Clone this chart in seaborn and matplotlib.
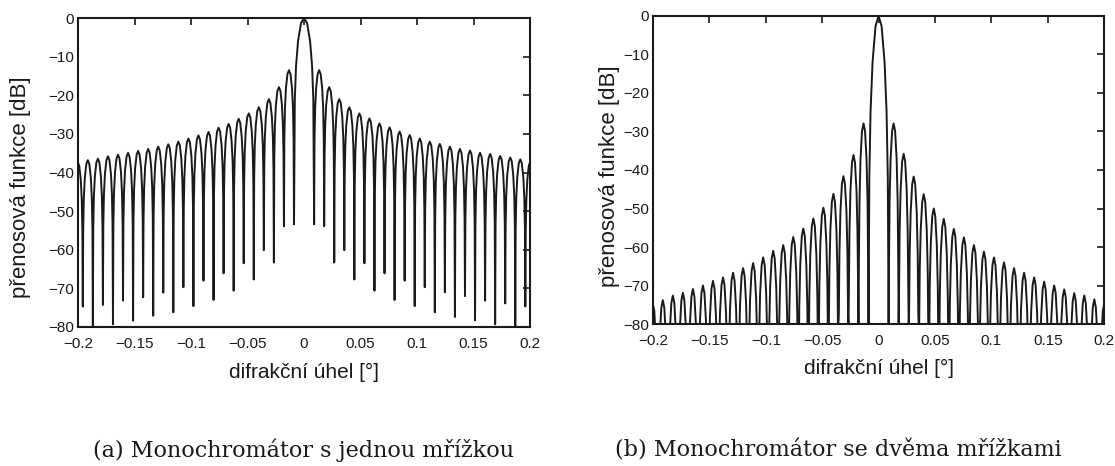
import numpy as np
import pandas as pd
import matplotlib.pyplot as plt
import seaborn as sns

# spacing of the nulls on the angle axis [deg]
null_step = 0.0089

# (a) one grating: side-lobe peaks [dB], lobe 1..22 counted from the centre
peaks_a_right = [-13.5, -17.9, -21.0, -23.1, -24.7, -26.0, -27.3, -28.3, -29.4, -30.3, -31.2,
                 -32.0, -32.6, -33.3, -33.9, -34.3, -34.9, -35.2, -35.7, -36.1, -36.6, -37.2]
peaks_a_left = [-13.5, -17.9, -21.0, -23.1, -24.7, -26.1, -27.4, -28.4, -29.5, -30.4, -31.2,
                -32.0, -32.7, -33.3, -33.9, -34.4, -34.9, -35.4, -35.8, -36.4, -36.8, -37.3]
# (a) null depths [dB], null 1..23 counted from the centre
nulls_a_right = [-53.4, -53.9, -63.3, -60.1, -67.7, -63.5, -70.6, -66.1, -73.0, -68.0, -74.6, -69.7,
                 -76.2, -71.0, -77.4, -72.0, -78.3, -73.2, -79.3, -73.9, -80.0, -74.7, -80.0]
nulls_a_left = [-53.4, -53.9, -63.3, -60.1, -67.7, -63.5, -70.6, -66.1, -73.0, -68.0, -74.6, -69.7,
                -76.2, -71.1, -77.1, -72.3, -78.4, -73.2, -79.3, -74.3, -80.0, -74.7, -80.0]

# (b) two gratings: side-lobe peaks [dB]
peaks_b_right = [-27.9, -35.8, -41.7, -46.3, -50.0, -52.7, -55.3, -57.5, -59.5, -61.2, -62.7,
                 -64.0, -65.5, -66.7, -67.9, -69.0, -70.0, -71.0, -72.0, -72.6, -73.6, -74.6]
peaks_b_left = [-27.9, -36.1, -41.6, -46.2, -49.8, -52.6, -55.2, -57.4, -59.5, -61.0, -62.7,
                -64.2, -65.5, -66.7, -67.9, -68.8, -70.0, -70.9, -71.9, -72.6, -73.8, -74.6]
# (b) the nulls all run down to the floor of the axis
nulls_b_right = [-80, -80, -80, -80, -80, -80, -80, -80, -80, -80, -80, -80,
                 -80, -80, -80, -80, -80, -80, -80, -80, -80, -80, -80]
nulls_b_left = [-80, -80, -80, -80, -80, -80, -80, -80, -80, -80, -80, -80,
                -80, -80, -80, -80, -80, -80, -80, -80, -80, -80, -80]

xticks = [-0.2, -0.15, -0.1, -0.05, 0, 0.05, 0.1, 0.15, 0.2]
xtick_labels = ['\u22120.2', '\u22120.15', '\u22120.1', '\u22120.05', '0', '0.05', '0.1', '0.15', '0.2']
yticks = [0, -10, -20, -30, -40, -50, -60, -70, -80]
ytick_labels = ['0', '\u221210', '\u221220', '\u221230', '\u221240', '\u221250', '\u221260', '\u221270', '\u221280']

# shape of one lobe: position inside the lobe and drop below its peak
lobe_frac = [0.04, 0.1, 0.2, 0.35, 0.5, 0.65, 0.8, 0.9, 0.96]
lobe_drop_a = [-18, -10, -4.6, -1.0, 0, -1.0, -4.6, -10, -18]
main_drop_a = [-21, -12.5, -6, -1.3, 0, -1.3, -6, -12.5, -21]
lobe_drop_b = [-36, -20, -9.2, -2.0, 0, -2.0, -9.2, -20, -36]
main_drop_b = [-42, -25, -12, -2.6, 0, -2.6, -12, -25, -42]


def half_curve(peaks, nulls, main_drop, lobe_drop):
    # centre outwards, positive angles
    xs, ys = [], []
    for f, dr in zip(lobe_frac[4:], main_drop[4:]):
        xs.append((2 * f - 1) * null_step)
        ys.append(dr)
    for i, p in enumerate(peaks):
        xs.append((i + 1) * null_step)
        ys.append(nulls[i])
        for f, dr in zip(lobe_frac, lobe_drop):
            xs.append((i + 1 + f) * null_step)
            ys.append(p + dr)
    xs.append((len(peaks) + 1) * null_step)
    ys.append(nulls[len(peaks)])
    return np.array(xs), np.array(ys)


def full_curve(peaks_l, nulls_l, peaks_r, nulls_r, main_drop, lobe_drop):
    xr, yr = half_curve(peaks_r, nulls_r, main_drop, lobe_drop)
    xl, yl = half_curve(peaks_l, nulls_l, main_drop, lobe_drop)
    x = np.concatenate([-xl[::-1], xr[1:]])
    y = np.concatenate([yl[::-1], yr[1:]])
    return pd.DataFrame({'uhel': x, 'dB': y})


df_a = full_curve(peaks_a_left, nulls_a_left, peaks_a_right, nulls_a_right, main_drop_a, lobe_drop_a)
df_b = full_curve(peaks_b_left, nulls_b_left, peaks_b_right, nulls_b_right, main_drop_b, lobe_drop_b)

sns.set_style('white')
plt.rcParams['font.family'] = ['Liberation Sans', 'DejaVu Sans']

fig = plt.figure(figsize=(11.15, 4.66), dpi=100)
ax_a = fig.add_axes([0.070, 0.2983, 0.4054, 0.663])
ax_b = fig.add_axes([0.5857, 0.3047, 0.4045, 0.661])

for ax, df in [(ax_a, df_a), (ax_b, df_b)]:
    sns.lineplot(data=df, x='uhel', y='dB', ax=ax, color='#1a1a1a', lw=1.4,
                 estimator=None, sort=False)
    ax.set_xlim(-0.2, 0.2)
    ax.set_ylim(-80, 0)
    ax.set_xticks(xticks)
    ax.set_xticklabels(xtick_labels)
    ax.set_yticks(yticks)
    ax.set_yticklabels(ytick_labels)
    ax.tick_params(direction='in', top=True, right=True, length=5, width=1.2,
                   labelsize=11, colors='#1a1a1a', pad=3)
    ax.tick_params(axis='x', pad=7)
    for s in ax.spines.values():
        s.set_linewidth(1.5)
        s.set_color('#1a1a1a')
    ax.set_xlabel('difrakční úhel [°]', fontsize=15, color='#1a1a1a')
    ax.set_ylabel('přenosová funkce [dB]', fontsize=16, color='#1a1a1a')
    ax.xaxis.set_label_coords(0.5, -0.115)

ax_a.yaxis.set_label_coords(-0.104, 0.453)
ax_b.yaxis.set_label_coords(-0.073, 0.48)

fig.text(0.272, 0.033, '(a) Monochromátor s jednou mřížkou', ha='center', va='center',
         family='DejaVu Serif', fontsize=16, color='#1a1a1a')
fig.text(0.752, 0.033, '(b) Monochromátor se dvěma mřížkami', ha='center', va='center',
         family='DejaVu Serif', fontsize=16, color='#1a1a1a')

fig.savefig('out.png', dpi=100)
